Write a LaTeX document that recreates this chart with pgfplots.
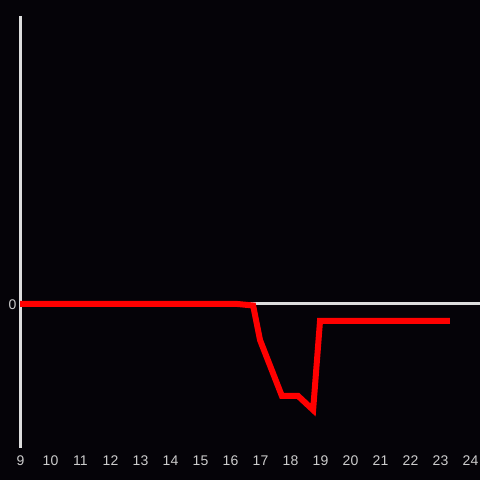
\documentclass[border=0pt]{standalone}
\usepackage{pgfplots}
\pgfplotsset{compat=1.18}
\usepackage{fontspec}
\setmainfont{Liberation Sans}
\definecolor{bg}{HTML}{050308}
\definecolor{axgray}{HTML}{DDDDDD}
\definecolor{lblgray}{HTML}{CCCCCC}
\begin{document}
\begin{tikzpicture}[x=1bp,y=1bp]
\fill[bg] (0,0) rectangle (480,480);
\useasboundingbox (0,0) rectangle (480,480);
\begin{axis}[
  at={(20bp,32bp)}, anchor=south west,
  scale only axis, width=460bp, height=432bp,
  xmin=9, xmax=24.333, ymin=-144, ymax=288,
  axis line style={draw=none},
  tick style={draw=none},
  xtick={9,10,...,24}, ytick={0},
  ticklabel style={font=\fontsize{14bp}{16bp}\selectfont, text=lblgray},
  /pgf/number format/assume math mode=true,
  xticklabel style={yshift=-4bp, xshift=0.5bp},
  yticklabel style={xshift=0bp, yshift=-1bp},
  clip=false,
]
\draw[axgray, line width=3bp] (axis cs:9,0) -- (axis cs:24.333,0);
\draw[axgray, line width=3bp] (axis cs:9,-144) -- (axis cs:9,288);
\addplot[color=red, line width=6bp, mark=none] coordinates {
(9,0) (16.25,0) (16.77,-1.5) (17.0,-36) (17.73,-92) (18.27,-92) (18.77,-106) (19.0,-17) (23.33,-17)
};
\end{axis}
\end{tikzpicture}
\end{document}
